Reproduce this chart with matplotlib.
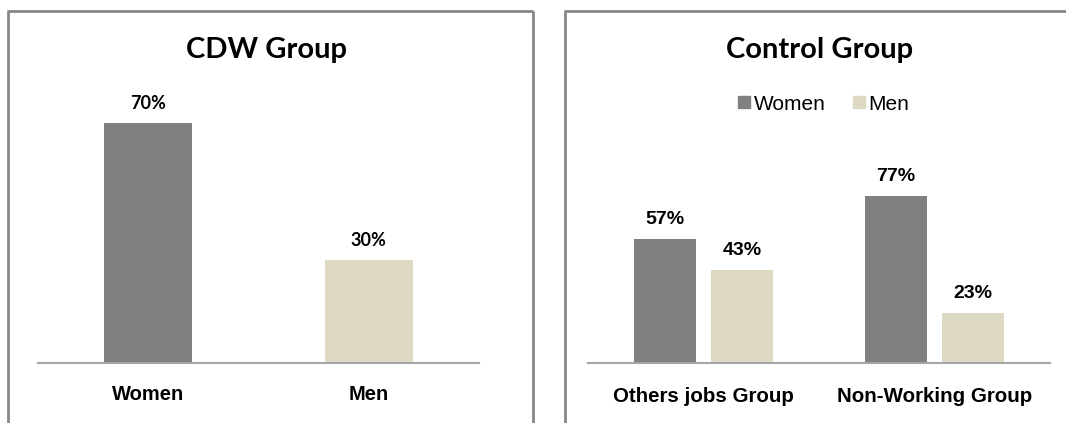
import matplotlib.pyplot as plt
from matplotlib.lines import Line2D
from matplotlib.patches import Patch

# CDW group: share of women and men
cdw_labels = ["Women", "Men"]
cdw_values = [70, 30]

# Control group: two sub-groups, women vs men
ctrl_groups = ["Others jobs Group", "Non-Working Group"]
ctrl_women = [57, 77]
ctrl_men = [43, 23]

WOMEN_C = "#808080"
MEN_C = "#ddd9c3"
FRAME_C = "#878787"
AXIS_C = "#a6a6a6"

W, H = 1066, 423
fig = plt.figure(figsize=(W / 100, H / 100), dpi=100)


def fx(x):
    return x / W


def fy(y):
    return 1 - y / H


def add_axes_px(x0, x1, y_base, y_top):
    return fig.add_axes([fx(x0), fy(y_base), (x1 - x0) / W, (y_base - y_top) / H])


def frame(x0, x1, y0):
    # open frame around each chart (cropped at the right/bottom edges)
    kw = dict(color=FRAME_C, lw=2.0, transform=fig.transFigure, solid_capstyle="butt")
    fig.add_artist(Line2D([fx(x0), fx(x0)], [fy(y0), 0], **kw))
    fig.add_artist(Line2D([fx(x0) - 0.001, fx(x1)], [fy(y0), fy(y0)], **kw))
    if x1 < W:
        fig.add_artist(Line2D([fx(x1), fx(x1)], [fy(y0), 0], **kw))


def style(ax, ymax):
    ax.set_ylim(0, ymax)
    for s in ["left", "right", "top"]:
        ax.spines[s].set_visible(False)
    ax.spines["bottom"].set_color(AXIS_C)
    ax.spines["bottom"].set_linewidth(1.5)
    ax.set_yticks([])
    ax.set_xticks([])
    ax.patch.set_alpha(0)


frame(8, 533, 11)
frame(565, W + 5, 11)

# ---- CDW Group ----
ax1 = add_axes_px(38, 479, 363, 363 - 80 * 3.43)
style(ax1, 80)
ax1.set_xlim(-0.5, 1.5)
ax1.bar([0, 1], cdw_values, width=0.4, color=[WOMEN_C, MEN_C])
for i, v in enumerate(cdw_values):
    ax1.annotate(f"{v}%", (i, v), xytext=(0, 14), textcoords="offset points",
                 ha="center", va="center", fontsize=13, fontweight="bold",
                 family="Lato")
    ax1.annotate(cdw_labels[i], (i, 0), xycoords=("data", "axes fraction"),
                 xytext=(0, -23), textcoords="offset points", ha="center",
                 va="center", fontsize=14.5, fontweight="bold",
                 family="Liberation Sans")
fig.text(fx(266), fy(50), "CDW Group", ha="center", va="center",
         fontsize=21, fontweight="bold", family="Lato")

# ---- Control Group ----
ax2 = add_axes_px(588, 1050, 363, 363 - 90 * 2.17)
style(ax2, 90)
ax2.set_xlim(-0.5, 1.5)
off, bw = 0.167, 0.268
xs = [0, 1]
ax2.bar([x - off for x in xs], ctrl_women, width=bw, color=WOMEN_C, label="Women")
ax2.bar([x + off for x in xs], ctrl_men, width=bw, color=MEN_C, label="Men")
for i in range(len(xs)):
    for dx, v in [(-off, ctrl_women[i]), (off, ctrl_men[i])]:
        ax2.annotate(f"{v}%", (xs[i] + dx, v), xytext=(0, 14),
                     textcoords="offset points", ha="center", va="center",
                     fontsize=14, fontweight="bold", family="Liberation Sans")
    ax2.annotate(ctrl_groups[i], (xs[i], 0), xycoords=("data", "axes fraction"),
                 xytext=(0, -24), textcoords="offset points", ha="center",
                 va="center", fontsize=14.8, fontweight="bold",
                 family="Liberation Sans")
fig.text(fx(820), fy(50), "Control Group", ha="center", va="center",
         fontsize=21, fontweight="bold", family="Lato")

handles = [Patch(color=WOMEN_C, label="Women"), Patch(color=MEN_C, label="Men")]
fig.legend(handles=handles, loc="center", bbox_to_anchor=(fx(824), fy(104)),
           ncol=2, frameon=False, handlelength=0.55, handleheight=0.55,
           handletextpad=0.2, columnspacing=1.3,
           prop={"family": "Liberation Sans", "size": 15})

fig.savefig("out.png", dpi=100)
